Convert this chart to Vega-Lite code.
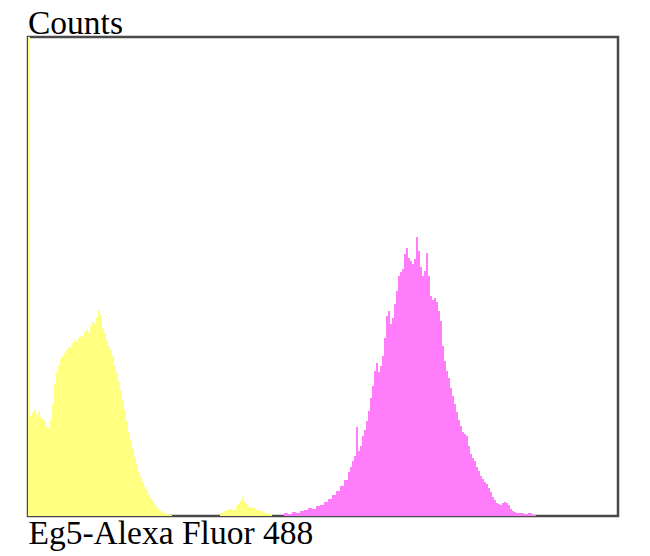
{
  "$schema": "https://vega.github.io/schema/vega-lite/v6.json",
  "width": 590,
  "height": 479,
  "autosize": {"type": "none"},
  "padding": {"left": 28, "top": 37, "right": 32, "bottom": 40},
  "background": "white",
  "title": {
    "text": "Counts",
    "anchor": "start",
    "font": "Liberation Serif",
    "fontSize": 33.5,
    "fontWeight": "normal",
    "color": "#000000",
    "offset": -4
  },
  "datasets": {
    "yellow": [
      {"x": 0, "count": 479}, {"x": 2, "count": 100}, {"x": 4, "count": 103}, {"x": 6, "count": 106},
      {"x": 8, "count": 101}, {"x": 10, "count": 104}, {"x": 12, "count": 99}, {"x": 14, "count": 97},
      {"x": 16, "count": 95}, {"x": 18, "count": 89}, {"x": 20, "count": 88}, {"x": 22, "count": 96},
      {"x": 24, "count": 112}, {"x": 26, "count": 132}, {"x": 28, "count": 144}, {"x": 30, "count": 150},
      {"x": 32, "count": 157}, {"x": 34, "count": 160}, {"x": 36, "count": 163}, {"x": 38, "count": 166},
      {"x": 40, "count": 169}, {"x": 42, "count": 168}, {"x": 44, "count": 173}, {"x": 46, "count": 176},
      {"x": 48, "count": 174}, {"x": 50, "count": 178}, {"x": 52, "count": 180}, {"x": 54, "count": 179},
      {"x": 56, "count": 184}, {"x": 58, "count": 186}, {"x": 60, "count": 183}, {"x": 62, "count": 190},
      {"x": 64, "count": 194}, {"x": 66, "count": 192}, {"x": 68, "count": 198}, {"x": 70, "count": 206},
      {"x": 72, "count": 201}, {"x": 74, "count": 188}, {"x": 76, "count": 183}, {"x": 78, "count": 176},
      {"x": 80, "count": 170}, {"x": 82, "count": 166}, {"x": 84, "count": 160}, {"x": 86, "count": 150},
      {"x": 88, "count": 143}, {"x": 90, "count": 135}, {"x": 92, "count": 126}, {"x": 94, "count": 116},
      {"x": 96, "count": 106}, {"x": 98, "count": 95}, {"x": 100, "count": 84}, {"x": 102, "count": 76},
      {"x": 104, "count": 67}, {"x": 106, "count": 59}, {"x": 108, "count": 52}, {"x": 110, "count": 45},
      {"x": 112, "count": 39}, {"x": 114, "count": 34}, {"x": 116, "count": 29}, {"x": 118, "count": 26},
      {"x": 120, "count": 21}, {"x": 122, "count": 18}, {"x": 124, "count": 15}, {"x": 126, "count": 12},
      {"x": 128, "count": 9}, {"x": 130, "count": 7}, {"x": 132, "count": 5}, {"x": 134, "count": 4},
      {"x": 136, "count": 3}, {"x": 138, "count": 2}, {"x": 140, "count": 2}, {"x": 142, "count": 1},
      {"x": 144, "count": 0}, {"x": 190, "count": 0}, {"x": 192, "count": 3}, {"x": 196, "count": 5},
      {"x": 200, "count": 7}, {"x": 204, "count": 6}, {"x": 208, "count": 10}, {"x": 210, "count": 12},
      {"x": 212, "count": 15}, {"x": 214, "count": 19}, {"x": 216, "count": 14}, {"x": 218, "count": 12},
      {"x": 220, "count": 9}, {"x": 224, "count": 8}, {"x": 228, "count": 6}, {"x": 232, "count": 5},
      {"x": 236, "count": 3}, {"x": 240, "count": 2}, {"x": 244, "count": 0}
    ],
    "magenta": [
      {"x": 252, "count": 0}, {"x": 256, "count": 3}, {"x": 260, "count": 2}, {"x": 264, "count": 4},
      {"x": 268, "count": 3}, {"x": 272, "count": 5}, {"x": 276, "count": 6}, {"x": 280, "count": 8},
      {"x": 284, "count": 7}, {"x": 288, "count": 10}, {"x": 292, "count": 11}, {"x": 296, "count": 14},
      {"x": 300, "count": 17}, {"x": 304, "count": 21}, {"x": 308, "count": 25}, {"x": 312, "count": 30},
      {"x": 316, "count": 36}, {"x": 320, "count": 44}, {"x": 322, "count": 49}, {"x": 324, "count": 55},
      {"x": 326, "count": 60}, {"x": 328, "count": 89}, {"x": 330, "count": 65}, {"x": 332, "count": 70},
      {"x": 334, "count": 80}, {"x": 336, "count": 86}, {"x": 338, "count": 95}, {"x": 340, "count": 105},
      {"x": 342, "count": 118}, {"x": 344, "count": 130}, {"x": 346, "count": 145}, {"x": 348, "count": 153},
      {"x": 350, "count": 144}, {"x": 352, "count": 150}, {"x": 354, "count": 160}, {"x": 356, "count": 178},
      {"x": 358, "count": 200}, {"x": 360, "count": 205}, {"x": 362, "count": 192}, {"x": 364, "count": 198},
      {"x": 366, "count": 212}, {"x": 368, "count": 225}, {"x": 370, "count": 240}, {"x": 372, "count": 244},
      {"x": 374, "count": 247}, {"x": 376, "count": 262}, {"x": 378, "count": 268}, {"x": 380, "count": 258},
      {"x": 382, "count": 255}, {"x": 384, "count": 252}, {"x": 386, "count": 257}, {"x": 388, "count": 279},
      {"x": 390, "count": 265}, {"x": 392, "count": 249}, {"x": 394, "count": 240}, {"x": 396, "count": 245},
      {"x": 398, "count": 263}, {"x": 400, "count": 240}, {"x": 402, "count": 220}, {"x": 404, "count": 216},
      {"x": 406, "count": 218}, {"x": 408, "count": 214}, {"x": 410, "count": 205}, {"x": 412, "count": 195},
      {"x": 414, "count": 170}, {"x": 416, "count": 155}, {"x": 418, "count": 145}, {"x": 420, "count": 138},
      {"x": 422, "count": 128}, {"x": 424, "count": 120}, {"x": 426, "count": 112}, {"x": 428, "count": 104},
      {"x": 430, "count": 96}, {"x": 432, "count": 90}, {"x": 434, "count": 84}, {"x": 436, "count": 82},
      {"x": 438, "count": 80}, {"x": 440, "count": 70}, {"x": 442, "count": 62}, {"x": 444, "count": 58},
      {"x": 446, "count": 55}, {"x": 448, "count": 49}, {"x": 450, "count": 45}, {"x": 452, "count": 40},
      {"x": 454, "count": 37}, {"x": 456, "count": 34}, {"x": 458, "count": 32}, {"x": 460, "count": 28},
      {"x": 462, "count": 24}, {"x": 464, "count": 19}, {"x": 466, "count": 16}, {"x": 468, "count": 13},
      {"x": 470, "count": 12}, {"x": 472, "count": 11}, {"x": 474, "count": 13}, {"x": 476, "count": 14},
      {"x": 478, "count": 13}, {"x": 480, "count": 11}, {"x": 482, "count": 7}, {"x": 484, "count": 5},
      {"x": 486, "count": 4}, {"x": 488, "count": 3}, {"x": 492, "count": 3}, {"x": 496, "count": 2},
      {"x": 500, "count": 3}, {"x": 504, "count": 1}, {"x": 508, "count": 0}
    ]
  },
  "layer": [
    {
      "data": {"name": "magenta"},
      "mark": {"type": "area", "interpolate": "step-after", "color": "#FF7DFA"},
      "encoding": {
        "x": {
          "field": "x", "type": "quantitative",
          "scale": {"domain": [0, 590], "nice": false, "zero": false},
          "axis": {
            "title": "Eg5-Alexa Fluor 488",
            "labels": false, "ticks": false, "domain": false, "grid": false,
            "titleAnchor": "start", "titleAlign": "left",
            "titleFont": "Liberation Serif", "titleFontSize": 33.5, "titleFontWeight": "normal",
            "titleColor": "#000000", "titlePadding": 1
          }
        },
        "y": {
          "field": "count", "type": "quantitative", "stack": null,
          "scale": {"domain": [0, 479], "nice": false},
          "axis": null
        }
      }
    },
    {
      "data": {"name": "yellow"},
      "mark": {"type": "area", "interpolate": "step-after", "color": "#FFFF80"},
      "encoding": {
        "x": {"field": "x", "type": "quantitative"},
        "y": {"field": "count", "type": "quantitative", "stack": null}
      }
    }
  ],
  "config": {
    "view": {"stroke": "#4a4a4a", "strokeWidth": 2.5}
  }
}
